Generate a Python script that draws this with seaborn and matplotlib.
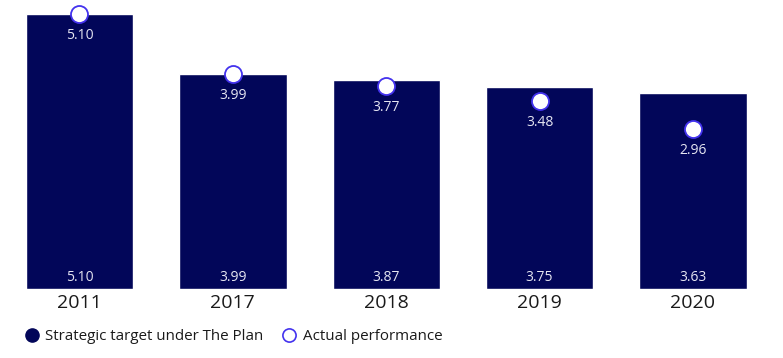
import numpy as np
import pandas as pd
import matplotlib
matplotlib.use("Agg")
import matplotlib.pyplot as plt
import seaborn as sns
from matplotlib.lines import Line2D

# data
years = ["2011", "2017", "2018", "2019", "2020"]
target = [5.10, 3.99, 3.87, 3.75, 3.63]
actual = [5.10, 3.99, 3.77, 3.48, 2.96]

NAVY = "#020659"
RING = "#4433ee"

sns.set_theme(style="white")
plt.rcParams["font.family"] = ["Open Sans", "DejaVu Sans"]

df = pd.DataFrame({"year": years, "target": target, "actual": actual})

fig = plt.figure(figsize=(7.83, 3.58), dpi=100)
ax = fig.add_axes([0.0, 0.193, 1.0, 0.807])

sns.barplot(data=df, x="year", y="target", order=years, color=NAVY,
            width=0.70, saturation=1, ax=ax)
sns.scatterplot(data=df, x="year", y="actual", s=150, color="white",
                edgecolor=RING, linewidth=1.3, zorder=5, ax=ax, clip_on=False)

# value labels
for i, (t, a) in enumerate(zip(target, actual)):
    ax.text(i, a - 0.40, f"{a:.2f}", ha="center", va="center",
            color="#e6e6f2", fontsize=10)
    ax.text(i, 0.22, f"{t:.2f}", ha="center", va="center",
            color="#e6e6f2", fontsize=10)

ax.set_xlim(-0.518, 4.587)
ax.set_ylim(0, 5.36)
ax.set_xlabel("")
ax.set_ylabel("")
ax.set_yticks([])
ax.tick_params(axis="x", length=0, pad=4, labelsize=14, labelcolor="#1a1a1a")
sns.despine(ax=ax, left=True, bottom=True, top=True, right=True)

handles = [
    Line2D([], [], marker="o", linestyle="", markersize=9.5,
           markerfacecolor=NAVY, markeredgecolor=NAVY),
    Line2D([], [], marker="o", linestyle="", markersize=9.5,
           markerfacecolor="white", markeredgecolor=RING, markeredgewidth=1.2),
]
fig.legend(handles, ["Strategic target under The Plan", "Actual performance"],
           loc="center left", bbox_to_anchor=(0.031, 0.06), ncol=2,
           frameon=False, fontsize=10.9, handletextpad=0.4, handlelength=1.0,
           borderpad=0, borderaxespad=0,
           columnspacing=1.2, labelcolor="#1a1a1a")

fig.savefig("out.png", dpi=100)
